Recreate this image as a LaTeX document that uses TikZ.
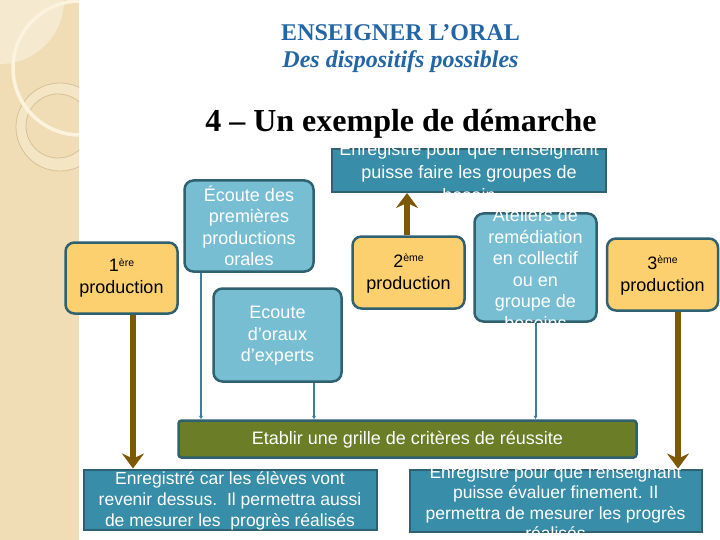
\documentclass[tikz,border=0pt]{standalone}
\usepackage{fontspec}
\setmainfont{Liberation Serif}
\newfontfamily\arialf{Liberation Sans}
\usetikzlibrary{arrows.meta}
\definecolor{beigec}{HTML}{F0DDB5}
\definecolor{beigelt}{HTML}{F5E9CF}
\definecolor{creamc}{HTML}{FBF3DE}
\definecolor{ringfill}{HTML}{F4E5C5}
\definecolor{ringline}{HTML}{D6C197}
\definecolor{titleblue}{HTML}{2366A6}
\definecolor{bordc}{HTML}{2F6170}
\definecolor{orangef}{HTML}{FCD06E}
\definecolor{lightb}{HTML}{78BED2}
\definecolor{darkb}{HTML}{388EA8}
\definecolor{greenf}{HTML}{6B7D26}
\definecolor{brownc}{HTML}{7D5805}
\definecolor{linec}{HTML}{3A7F9C}
\newcommand\supx[1]{\raisebox{0.6ex}{\fontsize{10.5}{10.5}\selectfont #1}}
\begin{document}
\begin{tikzpicture}[x=1pt,y=-1pt,
  rbox/.style={draw=bordc, line width=2.5pt, rounded corners=9pt, inner sep=0pt},
  obox/.style={rbox, fill=orangef},
  lbox/.style={rbox, fill=lightb},
  dbox/.style={draw=bordc, line width=2pt, fill=darkb, inner sep=0pt},
  gbox/.style={draw=bordc, line width=2.5pt, fill=greenf, rounded corners=3pt, inner sep=0pt},
  wtxt/.style={text=white, align=center, inner sep=0pt, font=\arialf\fontsize{18}{21.5}\selectfont},
  ktxt/.style={text=black, align=center, inner sep=0pt, font=\arialf\fontsize{18}{22}\selectfont},
  brownarr/.style={draw=brownc, line width=6pt, -{Stealth[length=15pt,width=22pt,inset=5pt]}},
  thinarr/.style={draw=linec, line width=2pt, -{Latex[length=3.5pt,width=4.5pt]}}
]
\useasboundingbox (0,0) rectangle (720,540);
\fill[white] (0,0) rectangle (720,540);
% left decorative strip
\begin{scope}
  \clip (0,0) rectangle (79,540);
  \fill[beigec] (0,0) rectangle (79,540);
  \fill[beigelt] (0,0) circle[radius=64];
  \fill[ringfill, even odd rule] (60,127) circle[radius=44] (58,126) circle[radius=32];
  \draw[ringline, line width=0.8pt] (60,127) circle[radius=44];
  \draw[ringline, line width=0.8pt] (58,126) circle[radius=32];
  \draw[creamc, line width=3.5pt] (80,68) circle[radius=67];
\end{scope}
% titles
\node[text=titleblue, font=\fontsize{24}{28}\selectfont\bfseries] (t1) at (400.5,33) {ENSEIGNER L’ORAL};
\node[text=titleblue, font=\fontsize{24}{28}\selectfont\bfseries\itshape] (t2) at (400.5,62) {Des dispositifs possibles};
\node[text=black, font=\fontsize{32}{36}\selectfont\bfseries] (t3) at (401,124) {4 – Un exemple de démarche};
% boxes
\node[obox, minimum width=112pt, minimum height=71pt] (p1) at (121.5,278) {};
\node[lbox, minimum width=129pt, minimum height=91pt] (e1) at (249,226) {};
\node[lbox, minimum width=128pt, minimum height=93pt] (e2) at (277.5,335) {};
\node[dbox, minimum width=274pt, minimum height=43pt] (d1) at (469,170.5) {};
\node[obox, minimum width=112pt, minimum height=72pt] (p2) at (408.5,272.5) {};
\node[lbox, minimum width=122pt, minimum height=108pt] (at) at (535.5,267.5) {};
\node[obox, minimum width=111pt, minimum height=72pt] (p3) at (662.5,274.5) {};
\node[gbox, minimum width=458pt, minimum height=37pt] (g) at (407.5,439) {};
\node[dbox, minimum width=293pt, minimum height=60pt] (b1) at (230,499.5) {};
\node[dbox, minimum width=292pt, minimum height=62pt] (b2) at (555.5,500.5) {};
% texts
\node[ktxt] (p1t) at (p1.center) {1\supx{ère}\\production};
\node[wtxt] (e1t) at (e1.center) {Écoute des\\premières\\productions\\orales};
\node[wtxt] (e2t) at ([yshift=-1pt]e2.center) {Ecoute\\d’oraux\\d’experts};
\node[wtxt, font=\arialf\fontsize{18}{23}\selectfont] (d1t) at ([yshift=-1.5pt]d1.center) {Enregistré pour que l’enseignant\\puisse faire les groupes de\\besoin};
\node[ktxt] (p2t) at ([yshift=-1pt]p2.center) {2\supx{ème}\\production};
\node[wtxt] (att) at ([yshift=-1.5pt]at.center) {Ateliers de\\remédiation\\en collectif\\ou en\\groupe de\\besoins};
\node[ktxt] (p3t) at ([yshift=-1pt]p3.center) {3\supx{ème}\\production};
\node[wtxt] (gt) at ([yshift=-1pt]g.center) {Etablir une grille de critères de réussite};
\node[wtxt, font=\arialf\fontsize{17.5}{21}\selectfont] (b1t) at ([yshift=-1.5pt]b1.center) {Enregistré car les élèves vont\\revenir dessus.\ \ Il permettra aussi\\de mesurer les\ \ progrès réalisés};
\node[wtxt, font=\arialf\fontsize{17.5}{20.5}\selectfont] (b2t) at ([yshift=-2pt]b2.center) {Enregistré pour que l’enseignant\\puisse évaluer finement. Il\\permettra de mesurer les progrès\\réalisés};
% thin connectors
\draw[thinarr] ([xshift=-48pt]e1.south) -- ([xshift=-48pt]e1.south |- g.north);
\draw[thinarr] ([xshift=36.5pt]e2.south) -- ([xshift=36.5pt]e2.south |- g.north);
\draw[thinarr] (at.south) -- (at.south |- g.north);
% brown arrows
\draw[brownarr] ([xshift=11.5pt]p1.south) -- ([xshift=11.5pt]p1.south |- b1.north);
\draw[brownarr] ([xshift=-1.5pt]p2.north) -- ([xshift=-1.5pt]p2.north |- d1.south);
\draw[brownarr] ([xshift=15.5pt]p3.south) -- ([xshift=15.5pt]p3.south |- b2.north);
\end{tikzpicture}
\end{document}
